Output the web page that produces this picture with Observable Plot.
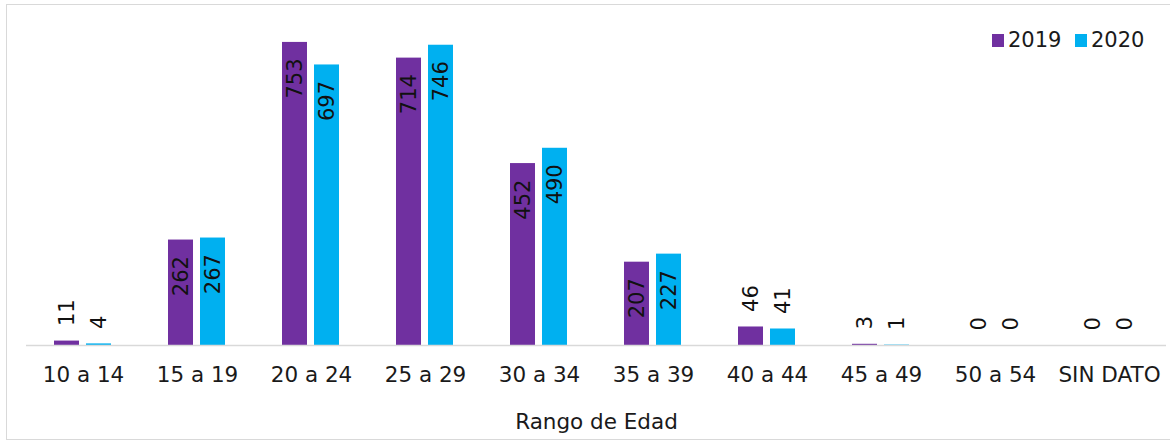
<!DOCTYPE html>
<html><head><meta charset="utf-8">
<script src="https://cdn.jsdelivr.net/npm/d3@7"></script>
<script src="https://cdn.jsdelivr.net/npm/@observablehq/plot@0.6"></script>
<style>
body{margin:0;background:#fff;font-family:"DejaVu Sans",sans-serif;}
#wrap{position:relative;width:1170px;height:440px;overflow:hidden;}
#frame{position:absolute;left:6px;top:4px;width:1190px;height:434px;border:1px solid #d9d9d9;pointer-events:none;}
.sw{position:absolute;width:12px;height:13px;}
.lt{position:absolute;font-size:21px;line-height:21px;color:#1a1a1a;font-family:"DejaVu Sans",sans-serif;}
</style></head><body>
<div id="wrap">
<div id="chart"></div>
<div id="frame"></div>
<div id="legend"></div>
</div>
<script>
const categories = ["10 a 14","15 a 19","20 a 24","25 a 29","30 a 34","35 a 39","40 a 44","45 a 49","50 a 54","SIN DATO"];
const years = ["2019","2020"];
const values2019 = [11,262,753,714,452,207,46,3,0,0];
const values2020 = [4,267,697,746,490,227,41,1,0,0];
const colors = ["#7030A0","#00B0F0"];
const axisTitle = "Rango de Edad";

const series = {"2019": values2019, "2020": values2020};
const data = categories.flatMap((c, i) => years.map(y => ({cat: c, year: y, value: series[y][i]})));
const inside = data.filter(d => d.value >= 100);
const outside = data.filter(d => d.value < 100);

const chart = Plot.plot({
  width: 1170, height: 440,
  marginLeft: 25, marginRight: 4, marginTop: 23, marginBottom: 95,
  style: {fontFamily: "DejaVu Sans", background: "transparent", color: "#1a1a1a"},
  fx: {domain: categories, padding: 0},
  x: {domain: years, paddingInner: 0.21, paddingOuter: 0.835, axis: null},
  y: {domain: [0, 800], axis: null},
  color: {domain: years, range: colors},
  marks: [
    Plot.barY(data, {fx: "cat", x: "year", y: "value", fill: "year"}),
    Plot.ruleY([0], {stroke: "#d9d9d9", strokeWidth: 1.5}),
    Plot.text(inside, {fx: "cat", x: "year", y: "value", text: d => String(d.value), rotate: -90, textAnchor: "end", dy: 16, fontSize: 21, fill: "#111"}),
    Plot.text(outside, {fx: "cat", x: "year", y: "value", text: d => String(d.value), rotate: -90, textAnchor: "start", dy: -15, fontSize: 21, fill: "#111"}),
    Plot.axisFx({anchor: "bottom", tickSize: 0, tickPadding: 21, fontSize: 21.5, label: axisTitle, labelAnchor: "center", labelOffset: 83})
  ]
});
document.getElementById("chart").appendChild(chart);

// legend
const legend = document.getElementById("legend");
const lpos = [{sx: 992, tx: 1008}, {sx: 1075, tx: 1091}];
years.forEach((y, i) => {
  const s = document.createElement("div");
  s.className = "sw"; s.style.left = lpos[i].sx + "px"; s.style.top = "34px"; s.style.background = colors[i];
  legend.appendChild(s);
  const t = document.createElement("div");
  t.className = "lt"; t.style.left = lpos[i].tx + "px"; t.style.top = "30px"; t.textContent = y;
  legend.appendChild(t);
});
</script>
</body></html>
